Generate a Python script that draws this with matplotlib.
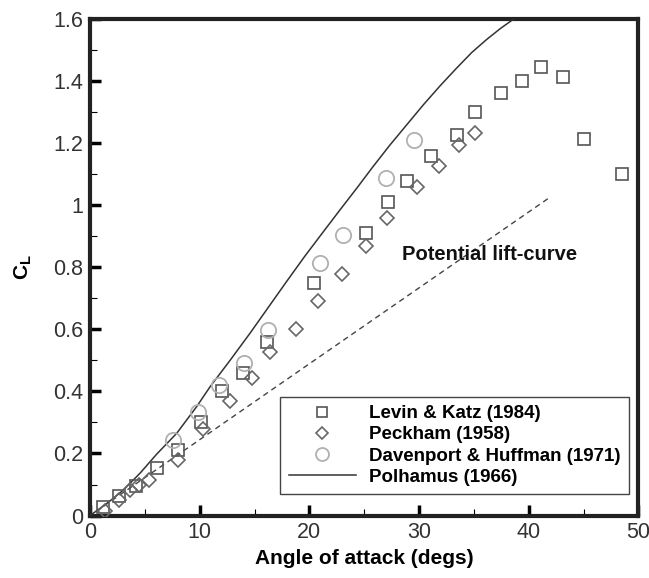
import numpy as np
import matplotlib
matplotlib.use("Agg")
import matplotlib.pyplot as plt
from matplotlib.ticker import MultipleLocator, FuncFormatter

plt.rcParams['font.family'] = ['Liberation Sans', 'DejaVu Sans']
plt.rcParams['mathtext.fontset'] = 'custom'
plt.rcParams['mathtext.rm'] = 'Liberation Sans'
plt.rcParams['mathtext.bf'] = 'Liberation Sans:bold'

# Levin & Katz (1984)
levin_aoa = [1.2, 2.6, 4.2, 6.1, 8.0, 10.1, 12.0, 13.96, 16.15, 20.4, 25.2, 27.2,
             28.9, 31.1, 33.5, 35.1, 37.5, 39.4, 41.15, 43.1, 45.0, 48.5]
levin_cl = [0.027, 0.062, 0.096, 0.154, 0.21, 0.30, 0.40, 0.46, 0.558, 0.75, 0.91, 1.01,
            1.078, 1.16, 1.228, 1.302, 1.361, 1.40, 1.445, 1.415, 1.214, 1.10]

# Peckham (1958)
peck_aoa = [1.36, 2.6, 3.6, 4.5, 5.4, 8.0, 10.3, 12.8, 14.75, 16.45, 18.8, 20.8,
            22.96, 25.2, 27.1, 29.8, 31.8, 33.6, 35.06]
peck_cl = [0.014, 0.049, 0.082, 0.098, 0.115, 0.18, 0.28, 0.37, 0.443, 0.526, 0.60, 0.692,
           0.78, 0.87, 0.96, 1.059, 1.128, 1.195, 1.232]

# Davenport & Huffman (1971)
dav_aoa = [7.6, 9.85, 11.8, 14.0, 16.2, 21.0, 23.07, 27.0, 29.5]
dav_cl = [0.243, 0.333, 0.42, 0.493, 0.597, 0.815, 0.904, 1.087, 1.21]

# Polhamus (1966) curve
pol_aoa = [0.0, 1.5, 3.04, 4.6, 6.08, 7.9, 9.72, 10.94, 12.76, 14.59, 16.41, 17.93,
           19.6, 21.27, 22.8, 24.31, 25.8, 27.35, 28.9, 30.38, 31.9, 33.43, 34.8,
           36.16, 37.4, 38.59, 39.2]
pol_cl = [0.0, 0.038, 0.082, 0.138, 0.198, 0.265, 0.351, 0.415, 0.50, 0.588, 0.679, 0.755,
          0.837, 0.915, 0.986, 1.055, 1.125, 1.195, 1.261, 1.324, 1.385, 1.443, 1.493,
          1.535, 1.570, 1.600, 1.614]

# potential lift-curve (dashed)
pot_aoa = [0.5, 41.8]
pot_cl = [0.012, 1.023]

fig = plt.figure(figsize=(6.49, 5.78), dpi=100)
ax = fig.add_axes([0.1387, 0.1081, 0.8451, 0.8585])

ax.plot(pol_aoa, pol_cl, color='#333333', lw=1.1, label='Polhamus (1966)', zorder=3)
ax.plot(pot_aoa, pot_cl, color='#444444', lw=1.0, ls=(0, (4, 3)), zorder=3)
ax.plot(levin_aoa, levin_cl, ls='none', marker='s', ms=8, mfc='none', mec='#555555',
        mew=1.2, label='Levin & Katz (1984)', zorder=4)
ax.plot(peck_aoa, peck_cl, ls='none', marker='D', ms=7.5, mfc='none', mec='#666666',
        mew=1.2, label='Peckham (1958)', zorder=4)
ax.plot(dav_aoa, dav_cl, ls='none', marker='o', ms=11, mfc='none', mec='#b0b0b0',
        mew=1.3, label='Davenport & Huffman (1971)', zorder=4)

ax.text(28.4, 0.843, 'Potential lift-curve', fontsize=14.5, fontweight='bold',
        va='center', ha='left', color='#111111')

ax.set_xlim(0, 50)
ax.set_ylim(0, 1.6)
ax.xaxis.set_major_locator(MultipleLocator(10))
ax.xaxis.set_minor_locator(MultipleLocator(5))
ax.yaxis.set_major_locator(MultipleLocator(0.2))
ax.yaxis.set_minor_locator(MultipleLocator(0.1))
ax.yaxis.set_major_formatter(FuncFormatter(lambda v, p: '%g' % round(v, 2)))
ax.tick_params(which='major', direction='in', length=8, width=2.5, labelsize=15.5,
               top=False, right=False, pad=5, labelcolor='#333333')
ax.tick_params(which='minor', direction='in', length=5, width=0.8, top=False, right=False)
for s in ax.spines.values():
    s.set_linewidth(3)
    s.set_color('#222222')

ax.set_xlabel('Angle of attack (degs)', fontsize=15, fontweight='bold', labelpad=4)
ax.set_ylabel(r'$\mathbf{C_L}$', fontsize=15, labelpad=14)

h, l = ax.get_legend_handles_labels()
order = [1, 2, 3, 0]
leg = ax.legend([h[i] for i in order], [l[i] for i in order], loc='lower right',
                bbox_to_anchor=(0.99, 0.035), prop={'weight': 'bold', 'size': 13.5},
                fancybox=False, edgecolor='#444444', framealpha=1, handlelength=3.6,
                handletextpad=0.7, borderpad=0.45, labelspacing=0.22, markerscale=0.85,
                borderaxespad=0.2)
leg.get_frame().set_linewidth(1.0)

fig.savefig('out.png', dpi=100)
